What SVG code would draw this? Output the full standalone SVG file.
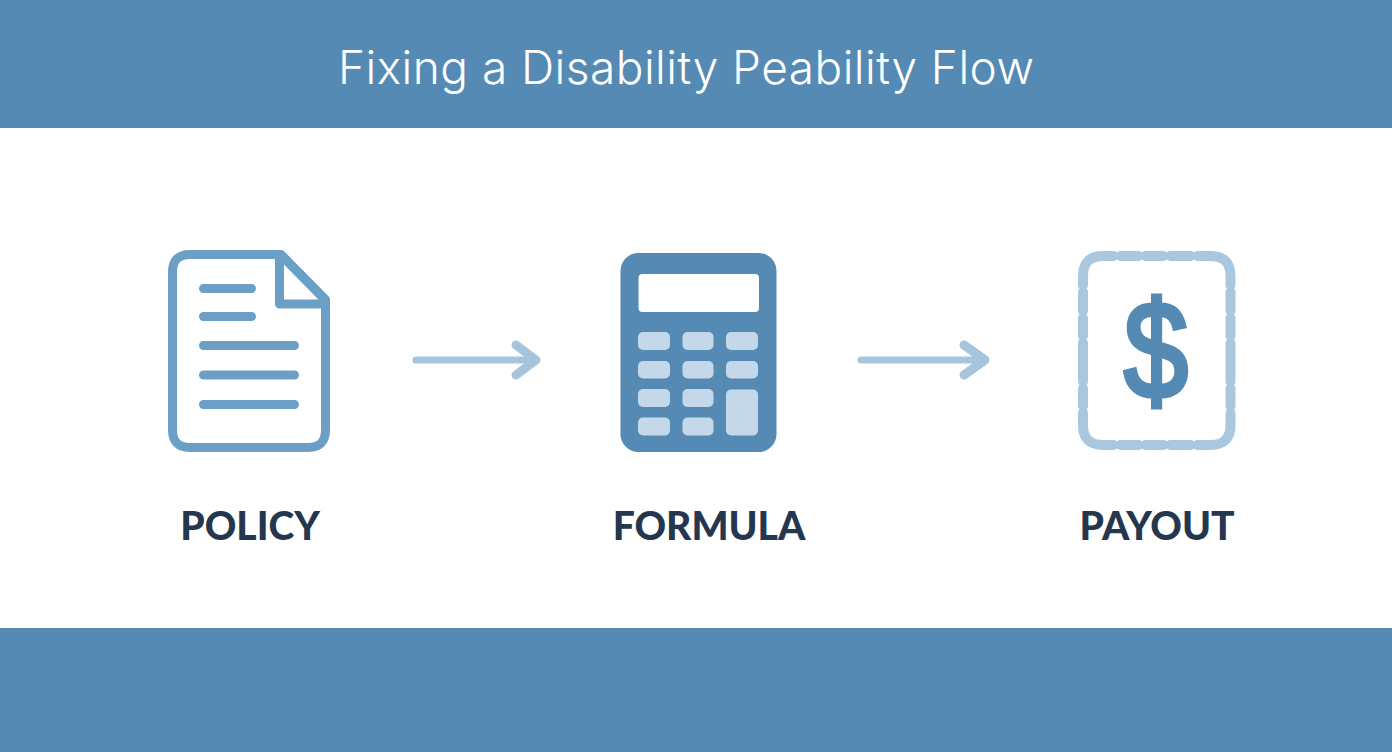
<svg xmlns="http://www.w3.org/2000/svg" width="1392" height="752" viewBox="0 0 1392 752">
<style>
.band{fill:#548ab3}
.title{font-family:"Inter","Lato","Liberation Sans",sans-serif;font-weight:300;font-size:46px;fill:#fff}
.label{font-family:"Lato","Liberation Sans",sans-serif;font-weight:900;font-size:39px;fill:#25374f;text-anchor:middle}
.doc{fill:none;stroke:#6b9fc6;stroke-width:9;stroke-linejoin:round;stroke-linecap:round}
.key{fill:#c5d8ea}
.dash{fill:none;stroke:#a9c7de;stroke-width:10;stroke-linecap:round}
.conn{fill:none;stroke:#a6c5dc;stroke-linecap:round;stroke-linejoin:round}
</style>
<rect width="1392" height="752" fill="#fff"/>
<rect class="band" x="0" y="0" width="1392" height="128"/>
<rect class="band" x="0" y="628" width="1392" height="124"/>
<text id="title" class="title" x="338" y="84" textLength="696" lengthAdjust="spacing">Fixing a Disability Peability Flow</text>
<g id="node-policy">
<path class="doc" d="M190 254.500H281L325.500 300V430Q325.500 447.500 308 447.500H190Q172.500 447.500 172.500 430V272Q172.500 254.500 190 254.500Z"/>
<path class="doc" stroke-width="10" d="M279.500 256V304H325M281 255L325.500 300"/>
<path class="doc" d="M203.500 288.500H251.500M203.500 316.500H251.500M203.500 345.500H294.500M203.500 375H294.500M203.500 404.500H294.500"/>
<text class="label" x="250" y="540">POLICY</text>
</g>
<g id="node-formula">
<rect x="620.500" y="253" width="156" height="199" rx="18" fill="#548ab3"/>
<rect x="638.500" y="274" width="120.500" height="38" rx="4" fill="#fff"/>
<rect class="key" x="638" y="332" width="32" height="18" rx="5"/>
<rect class="key" x="682.500" y="332" width="31" height="18" rx="5"/>
<rect class="key" x="726" y="332" width="32" height="18" rx="5"/>
<rect class="key" x="638" y="361" width="32" height="17.500" rx="5"/>
<rect class="key" x="682.500" y="361" width="31" height="17.500" rx="5"/>
<rect class="key" x="726" y="361" width="32" height="17.500" rx="5"/>
<rect class="key" x="638" y="389" width="32" height="18" rx="5"/>
<rect class="key" x="682.500" y="389" width="31" height="18" rx="5"/>
<rect class="key" x="726" y="389.500" width="32" height="46" rx="5"/>
<rect class="key" x="638" y="417.500" width="32" height="18" rx="5"/>
<rect class="key" x="682.500" y="417.500" width="31" height="18" rx="5"/>
<text class="label" x="709" y="540">FORMULA</text>
</g>
<g id="node-payout">
<path class="dash" d="M1083 285V276Q1083 256 1103 256H1113.500"/>
<path class="dash" d="M1120.500 256H1138.500M1145.500 256H1163.500M1170.500 256H1190.500"/>
<path class="dash" d="M1197.500 256H1210.500Q1230.500 256 1230.500 276V285"/>
<path class="dash" d="M1083 292V311M1083 318V336M1083 343V381.500M1083 388.500V406"/>
<path class="dash" d="M1230.500 292V311M1230.500 318V336M1230.500 343V381.500M1230.500 388.500V406"/>
<path class="dash" d="M1083 413V425Q1083 445 1103 445H1113.500"/>
<path class="dash" d="M1120.500 445H1138.500M1145.500 445H1163.500M1170.500 445H1190.500"/>
<path class="dash" d="M1197.500 445H1210.500Q1230.500 445 1230.500 425V413"/>
<text transform="translate(1156 398) scale(.84 1)" x="0" y="0" font-family="Liberation Sans, Arial, sans-serif" font-size="137" fill="#548ab3" stroke="#548ab3" stroke-width="5" text-anchor="middle">$</text>
<text class="label" x="1157" y="540">PAYOUT</text>
</g>
<g id="connectors">
<path class="conn" stroke-width="7" d="M416 360H534"/>
<path class="conn" stroke-width="9" d="M516 345L536 360L516 375"/>
<path class="conn" stroke-width="7" d="M861 360H984"/>
<path class="conn" stroke-width="9" d="M964 345L985 360L964 375"/>
</g>
</svg>
